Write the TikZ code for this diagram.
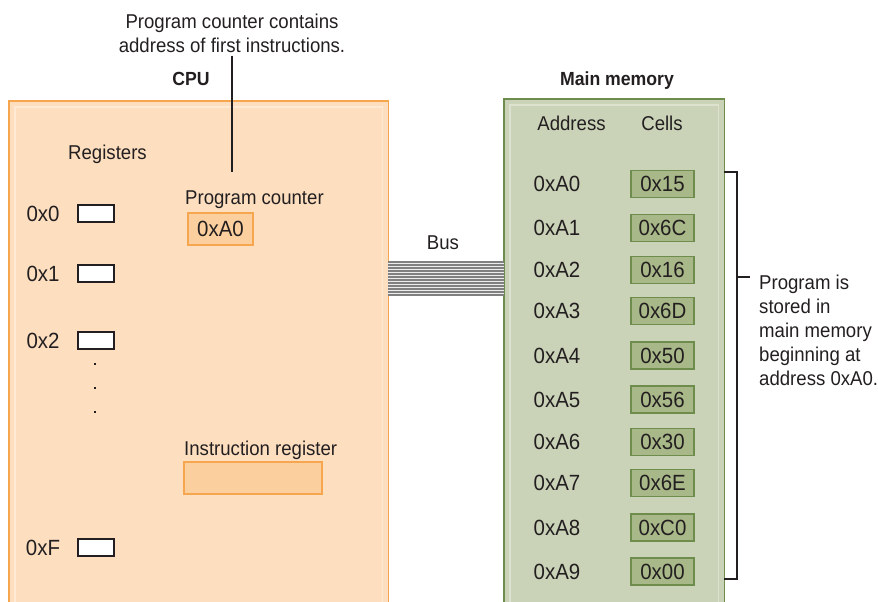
\documentclass[tikz,border=0pt]{standalone}
\usepackage{fontspec}
\setmainfont{Liberation Sans}[FakeStretch=0.93]
\usetikzlibrary{positioning,calc}
\definecolor{inkclr}{RGB}{35,31,32}
\definecolor{cpufill}{RGB}{253,223,192}
\definecolor{cpubdr}{RGB}{247,166,80}
\definecolor{cpuin}{RGB}{254,234,212}
\definecolor{pcfill}{RGB}{252,208,158}
\definecolor{memfill}{RGB}{202,211,184}
\definecolor{membdr}{RGB}{110,140,75}
\definecolor{memin}{RGB}{220,226,206}
\definecolor{cellfill}{RGB}{168,184,136}
\definecolor{busclr}{RGB}{128,128,128}
\definecolor{busbg}{RGB}{236,236,236}
\tikzset{
  %% plain text
  txt/.style={font=\fontsize{20}{24}\selectfont,text=inkclr,inner sep=0pt},
  hex/.style={txt,font=\fontsize{22}{24}\selectfont},
  hdr/.style={txt,font=\fontsize{19}{24}\selectfont\bfseries},
  %% register slot (CPU)
  regbox/.style={rectangle,draw=inkclr,fill=white,line width=1.6pt,
    minimum width=36pt,minimum height=17pt,inner sep=0pt},
  %% program counter / instruction register
  pcbox/.style={hex,rectangle,draw=cpubdr,fill=pcfill,line width=1.2pt,
    minimum height=32pt},
  %% memory cell
  cellbox/.style={hex,rectangle,draw=membdr,fill=cellfill,line width=1.2pt,
    minimum width=63pt,minimum height=27pt},
  %% lines
  busln/.style={busclr,line width=1.4pt},
  thinln/.style={inkclr,line width=1.1pt},
}
\begin{document}
\begin{tikzpicture}[x=1pt,y=-1pt]
  \useasboundingbox (0,0) rectangle (878,602);

  %% CPU block
  \node[fill=cpufill,minimum width=379pt,minimum height=501pt,inner sep=0pt,
    anchor=north west] (cpu) at (9,101) {};
  \draw[cpuin,line width=1.3pt] ([xshift=6pt]cpu.south west)
    |- ([xshift=-6pt,yshift=-6pt]cpu.north east) -- ([xshift=-6pt]cpu.south east);
  \draw[cpubdr,line width=1.3pt] (cpu.south west) |- (cpu.north east) -- (cpu.south east);
  \node[hdr,anchor=base] (cpulbl) at (191,85) {CPU};

  %% main memory block
  \node[fill=memfill,minimum width=220pt,minimum height=503pt,inner sep=0pt,
    anchor=north west] (mem) at (504,99) {};
  \draw[memin,line width=1.3pt] ([xshift=6pt]mem.south west)
    |- ([xshift=-6pt,yshift=-6pt]mem.north east) -- ([xshift=-6pt]mem.south east);
  \draw[membdr,line width=1.3pt] (mem.south west) |- (mem.north east) -- (mem.south east);
  \node[hdr,anchor=base] (memlbl) at (617,85) {Main memory};

  %% registers
  \node[txt,anchor=base] (reglbl) at (107.5,159) {Registers};
  \foreach \r/\yb in {0/221,1/281,2/348,F/555}{
    \node[hex,anchor=base] (rl\r) at (43,\yb) {0x\r};
    \node[regbox,anchor=west] (rb\r) at (77,\yb-7.5) {};
  }
  \foreach \d in {363,387,411}
    \fill[inkclr] (94,\d) rectangle ++(2.2,2.2);

  %% program counter + instruction register
  \node[txt,anchor=base west] (pclbl) at (185,204) {Program counter};
  \node[pcbox,minimum width=65pt] (pcreg) at (220.5,229) {0xA0};
  \node[txt,anchor=base west] (irlbl) at (184,455) {Instruction register};
  \node[pcbox,minimum width=138pt] (ireg) at (253,478) {};

  %% note on program counter
  \node[txt,align=center,anchor=north] (pcnote) at (232,13.5)
    {Program counter contains\\address of first instructions.};
  \coordinate (pctip) at (232,172);
  \draw[thinln] ([yshift=-3pt]pcnote.south) -- (pctip);

  %% bus
  \coordinate (busL) at (388,262);
  \coordinate (busR) at (504,262);
  \fill[busbg] (busL) rectangle ([yshift=-33pt]busR);
  \foreach \k in {0,...,11}
    \draw[busln] ([yshift={-3pt*\k}]busL) -- ([yshift={-3pt*\k}]busR);
  \node[txt,anchor=base] (buslbl) at (443,249) {Bus};

  %% memory cells
  \node[txt,anchor=base] (addrhdr) at (571.5,130) {Address};
  \node[txt,anchor=base] (cellhdr) at (662,130) {Cells};
  \foreach \a/\c/\yc [count=\i] in {A0/15/184,A1/6C/228,A2/16/270,A3/6D/311,
      A4/50/355.5,A5/56/399.5,A6/30/442,A7/6E/483,A8/C0/527.5,A9/00/571.5}{
    \node[hex] (addr\i) at (557,\yc) {0x\a};
    \node[cellbox] (cell\i) at (662.5,\yc) {0x\c};
  }

  %% bracket + note
  \coordinate (brkT) at (724,172);
  \coordinate (brkTR) at (737,172);
  \coordinate (brkB) at (724,579);
  \coordinate (brkTick) at (737,277);
  \draw[thinln] (brkT) -- (brkTR) |- (brkB);
  \draw[thinln] (brkTick) -- ++(13,0);
  \node[txt,align=left,anchor=north west] (prognote) at (759,274.5)
    {Program is\\stored in\\main memory\\beginning at\\address 0xA0.};
\end{tikzpicture}
\end{document}
